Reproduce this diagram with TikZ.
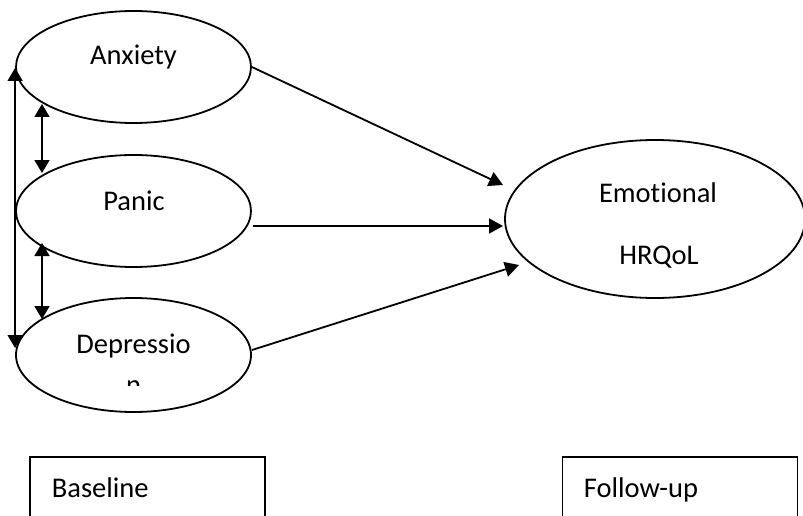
\documentclass[tikz,border=0pt]{standalone}
\usepackage{fontspec}
\setmainfont[Ligatures=NoCommon]{Carlito}
\usetikzlibrary{shapes.geometric,arrows.meta}
\begin{document}
\begin{tikzpicture}[x=1pt,y=-1pt,
  line width=1.8pt,
  latent/.style={draw,ellipse,inner sep=0pt},
  lbl/.style={font=\fontsize{28.5}{34}\selectfont,inner sep=0pt,anchor=base},
  period/.style={draw,rectangle,inner sep=0pt,minimum width=235pt,minimum height=90pt},
  tip/.style={-{Triangle[length=14pt,width=15pt]}},
  dtip/.style={{Triangle[length=13pt,width=15pt]}-{Triangle[length=13pt,width=15pt]}}]
\useasboundingbox (0,0) rectangle (803,516);
\clip (0,0) rectangle (803,516);

% baseline constructs
\node[latent,minimum width=235pt,minimum height=112pt] (anx) at (133.5,67) {};
\node[latent,minimum width=235pt,minimum height=112pt] (pan) at (133.5,211) {};
\node[latent,minimum width=235pt,minimum height=114pt] (dep) at (133.5,355) {};
\node[lbl] (anxT) at (133.5,65) {Anxiety};
\node[lbl] (panT) at (134,210) {Panic};
\node[lbl] (depT) at (133.5,353) {Depressio};
\begin{scope}
  \clip (60,300) rectangle (220,385);
  \node[lbl] (depN) at (133.5,394) {n};
\end{scope}

% follow-up outcome
\node[latent,minimum width=300pt,minimum height=158pt] (emo) at (655,219) {};
\node[lbl] (emoT1) at (658,202) {Emotional};
\node[lbl] (emoT2) at (659,264) {HRQoL};

% time-point boxes
\node[period] (base) at (147.5,502) {};
\node[period] (fup) at (680,502) {};
\node[lbl,anchor=base west] (baseT) at (51,497) {Baseline};
\node[lbl,anchor=base west] (fupT) at (583,497) {Follow-up};

% connector end points
\coordinate (a1) at (503,185);
\coordinate (p0) at (253,226);
\coordinate (p1) at (503,226);
\coordinate (d0) at (252,350);
\coordinate (d1) at (519,265);
\coordinate (ab) at (42,104);
\coordinate (pt) at (42,173);
\coordinate (pb) at (42,243);
\coordinate (dt) at (42,319);

% regression paths
\draw[tip] (anx.east) -- (a1);
\draw[tip] (p0) -- (p1);
\draw[tip] (d0) -- (d1);

% covariances
\draw[dtip] (ab) -- (pt);
\draw[dtip] (pb) -- (dt);
\draw[dtip] ([yshift=-1pt]anx.west) -- ([yshift=7pt]dep.west);
\end{tikzpicture}
\end{document}
